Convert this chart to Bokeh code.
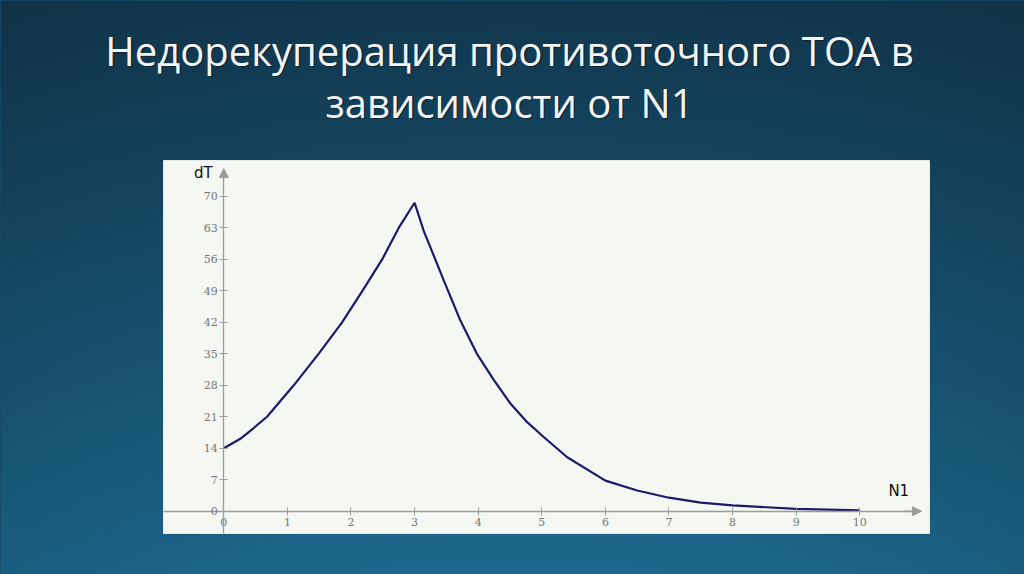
import numpy as np
from bokeh.plotting import figure
from bokeh.models import (Range1d, LinearAxis, FixedTicker, Arrow, NormalHead,
                          Label, GlobalInlineStyleSheet)
from bokeh.embed import file_html
from bokeh.resources import INLINE

# ---- data ----
n1_values = [0, 0.26, 0.47, 0.68, 1.10, 1.49, 1.86, 2.18, 2.49, 2.75, 3.0,
             3.145, 3.46, 3.72, 3.98, 4.25, 4.51, 4.77, 5.03, 5.40,
             6.0, 6.5, 7.0, 7.5, 8.0, 9.0, 10.0]
dt_values = [14, 16.1, 18.5, 21, 28, 35, 42, 49, 56, 63, 68.6,
             62.3, 51.3, 42.4, 35.0, 29.1, 23.9, 19.8, 16.5, 12.0,
             6.8, 4.6, 3.0, 1.9, 1.3, 0.5, 0.2]
x_ticks = list(range(0, 11))
y_ticks = list(range(0, 71, 7))
title_line1 = "Недорекуперация противоточного ТОА в"
title_line2 = "зависимости от N1"
x_name = "N1"
y_name = "dT"

W, H = 1024, 574
x0, x1 = -3.511, 12.590
y0, y1 = -14.08, 113.59

p = figure(width=W, height=H, x_range=Range1d(x0, x1), y_range=Range1d(y0, y1),
           output_backend="svg", toolbar_location=None,
           x_axis_type=None, y_axis_type=None, min_border=0,
           outline_line_color=None, background_fill_color="#174a66",
           border_fill_color="#174a66")
p.stylesheets = [GlobalInlineStyleSheet(
    css="html,body{margin:0;padding:0;overflow:hidden;background:#174a66;}")]

# background gradient (decoration)
ny, nx = 120, 200
yy = np.linspace(0, 1, ny)[:, None]          # 0 bottom, 1 top
xx = np.linspace(-1, 1, nx)[None, :]
top = np.array([18, 56, 78], float)
bot = np.array([29, 104, 142], float)
t = yy[..., None]
col = bot * (1 - t) + top * t
vign = 1 - 0.10 * (xx ** 2)
col = col * vign[..., None]
col = np.clip(col, 0, 255).astype(np.uint32)
img = (255 << 24) | (col[..., 2] << 16) | (col[..., 1] << 8) | col[..., 0]
p.image_rgba(image=[img.astype(np.uint32)], x=x0, y=y0, dw=x1 - x0, dh=y1 - y0)

# light chart panel
p.quad(left=-0.948, right=11.096, bottom=-4.96, top=78.0,
       fill_color="#f4f7f2", line_color="#e8ece6", line_width=1)

# axes through the origin
axis_col = "#9c9c9c"
xa = LinearAxis(fixed_location=0, bounds=(-0.948, 10.9),
                ticker=FixedTicker(ticks=x_ticks),
                axis_line_color=axis_col, axis_line_width=1.3,
                major_tick_line_color=axis_col, major_tick_in=4, major_tick_out=4,
                minor_tick_line_color=None,
                major_label_text_font="DejaVu Serif", major_label_text_font_size="11px",
                major_label_text_color="#767676", major_label_standoff=3)
p.add_layout(xa, "below")
ya = LinearAxis(fixed_location=0, bounds=(-4.96, 75.5),
                ticker=FixedTicker(ticks=y_ticks),
                axis_line_color=axis_col, axis_line_width=1.3,
                major_tick_line_color=axis_col, major_tick_in=4, major_tick_out=4,
                minor_tick_line_color=None,
                major_label_text_font="DejaVu Serif", major_label_text_font_size="11px",
                major_label_text_color="#767676", major_label_standoff=2)
p.add_layout(ya, "left")

p.add_layout(Arrow(end=NormalHead(size=9, fill_color=axis_col, line_color=axis_col),
                   x_start=10.7, y_start=0, x_end=10.97, y_end=0,
                   line_color=axis_col, line_width=1.3))
p.add_layout(Arrow(end=NormalHead(size=9, fill_color=axis_col, line_color=axis_col),
                   x_start=0, y_start=74, x_end=0, y_end=76.2,
                   line_color=axis_col, line_width=1.3))

# curve
p.line(n1_values, dt_values, line_color="#1c1a6b", line_width=2.2)

# axis names
p.add_layout(Label(x=10.45, y=2.6, text=x_name, text_font="DejaVu Sans",
                   text_font_size="15px", text_color="#111111"))
p.add_layout(Label(x=-0.47, y=73.3, text=y_name, text_font="DejaVu Sans",
                   text_font_size="15px", text_color="#111111"))

# title (two lines), with a soft shadow
for txt, yb in [(title_line1, 497), (title_line2, 445)]:
    p.add_layout(Label(x=W / 2 - 1.5, y=yb - 1.5, x_units="screen", y_units="screen",
                       text=txt, text_align="center", text_font="Open Sans",
                       text_font_size="40px", text_color="#000000", text_alpha=0.35))
    p.add_layout(Label(x=W / 2 - 3, y=yb, x_units="screen", y_units="screen",
                       text=txt, text_align="center", text_font="Open Sans",
                       text_font_size="40px", text_color="#f5f5f5"))

open("out.html", "w").write(file_html(p, INLINE))
